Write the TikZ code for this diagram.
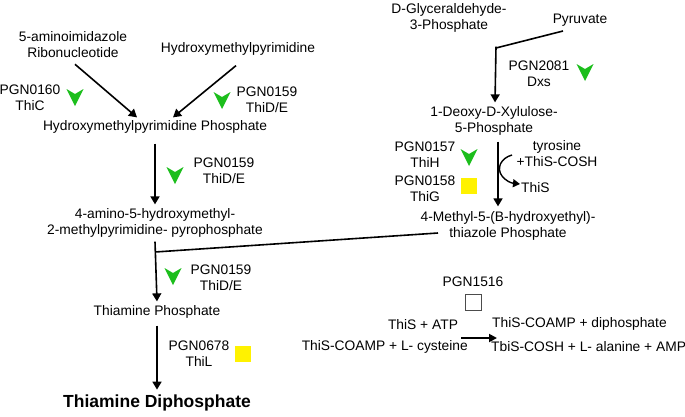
\documentclass[tikz,border=0pt]{standalone}
\usepackage{fontspec}
\setmainfont{Liberation Sans}
\usetikzlibrary{arrows.meta}
\definecolor{enzgreen}{RGB}{28,190,28}
\definecolor{enzyellow}{RGB}{255,242,0}
\tikzset{
  txt/.style={inner sep=0pt, align=center, font=\fontsize{13.8}{16}\selectfont},
  txtb/.style={inner sep=0pt, align=center, font=\fontsize{17.5}{20}\selectfont\bfseries},
  arr/.style={line width=1.6pt, -{Triangle[length=8pt,width=9pt]}},
  rxn/.style={line width=1.6pt},
  ybox/.style={fill=enzyellow, draw=none, minimum size=16pt, inner sep=0pt},
  ebox/.style={fill=white, draw=black!70, line width=0.8pt, minimum size=16pt, inner sep=0pt},
  enz/.pic={\fill[enzgreen] (-8.5,-8) -- (0,-3) -- (8.5,-8) -- (0,9) -- cycle;}
}
\begin{document}
\begin{tikzpicture}[x=1pt,y=-1pt]
\useasboundingbox (0,0) rectangle (685,416);
% left pathway
\node[txt] (air) at (73,45) {5-aminoimidazole\\Ribonucleotide};
\node[txt] (hmp) at (238,49) {Hydroxymethylpyrimidine};
\node[txt] (hmpp) at (155,127) {Hydroxymethylpyrimidine Phosphate};
\node[txt] (hmppp) at (155,223) {4-amino-5-hydroxymethyl-\\2-methylpyrimidine- pyrophosphate};
\node[txt] (tp) at (157,312) {Thiamine Phosphate};
\node[txtb] (tdp) at (157,403) {Thiamine Diphosphate};
% enzyme labels left
\node[txt] (l1) at (30,98) {PGN0160\\ThiC};
\node[txt] (l2) at (267,100) {PGN0159\\ThiD/E};
\node[txt] (l3) at (224,171) {PGN0159\\ThiD/E};
\node[txt] (l4) at (221,278) {PGN0159\\ThiD/E};
\node[txt] (l5) at (199,354) {PGN0678\\ThiL};
\pic at (75,97) {enz};
\pic at (222,100) {enz};
\pic at (175,175) {enz};
\pic at (173,276) {enz};
\node[ybox] (y1) at (243,354) {};
% right pathway
\node[txt] (g3p) at (449,18) {D-Glyceraldehyde-\\3-Phosphate};
\node[txt] (pyr) at (580,20) {Pyruvate};
\node[txt] (dxp) at (494,121) {1-Deoxy-D-Xylulose-\\5-Phosphate};
\node[txt] (thz) at (508,226) {4-Methyl-5-(B-hydroxyethyl)-\\thiazole Phosphate};
\node[txt] (l6) at (539,74) {PGN2081\\Dxs};
\pic at (585,72) {enz};
\node[txt] (l7) at (425,155) {PGN0157\\ThiH};
\pic at (469,157) {enz};
\node[txt] (l8) at (425,189) {PGN0158\\ThiG};
\node[ybox] (y2) at (469,186) {};
\node[txt] (tyr) at (557,154) {tyrosine\\+ThiS-COSH};
\node[txt,anchor=west] (this) at (521,188) {ThiS};
% PGN1516 reaction
\node[txt] (l9) at (473,282) {PGN1516};
\node[ebox] (e1) at (473,302) {};
\node[txt] (r1) at (423,325) {ThiS + ATP};
\node[txt,anchor=east] (r2) at (468,347) {ThiS-COAMP + L- cysteine};
\node[txt,anchor=west] (p1) at (492,324) {ThiS-COAMP + diphosphate};
\node[txt,anchor=west] (p2) at (491,347) {TbiS-COSH + L- alanine + AMP};
% connector coordinates
\coordinate (j1) at (155,252);
\coordinate (thzend) at (438,233);
\coordinate (j2) at (496,48);
\coordinate (pyrend) at (563,31);
\coordinate (cs) at (512,155);
\coordinate (ce) at (520,184);
% connectors
\draw[arr] ([shift={(2,6)}]air.south) -- ([shift={(-18,-3)}]hmpp.north);
\draw[arr] ([shift={(-2,10)}]hmp.south) -- ([shift={(18,-3)}]hmpp.north);
\draw[arr] ([yshift=-10pt]hmpp.south) -- ([yshift=4pt]hmppp.north);
\draw[arr] ([yshift=-4pt]hmppp.south) -- ([yshift=4pt]tp.north);
\draw[rxn] (j1) -- (thzend);
\draw[arr] ([yshift=-7pt]tp.south) -- ([yshift=5pt]tdp.north);
\draw[arr] ([shift={(47,14)}]g3p.south) -- ([shift={(1,-4)}]dxp.north);
\draw[rxn] (j2) -- (pyrend);
\draw[arr] ([shift={(4,6)}]dxp.south) -- ([shift={(-10,-5)}]thz.north);
\draw[line width=1.4pt, -{Triangle[length=7pt,width=8pt]}] (cs) .. controls (501,158) and (496,168) .. (502,176) .. controls (506,181) and (511,183) .. (ce);
\draw[line width=1.8pt, -{Triangle[length=8pt,width=8pt]}] (461,338) -- (497,338);
\end{tikzpicture}
\end{document}
